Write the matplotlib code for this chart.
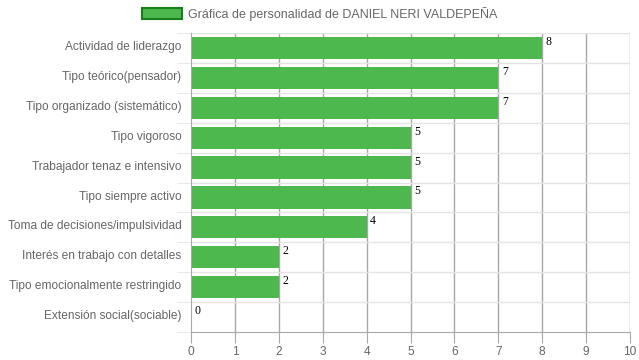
import numpy as np
import matplotlib
matplotlib.use('Agg')
import matplotlib.pyplot as plt
from matplotlib.patches import Patch

categories = ['Actividad de liderazgo', 'Tipo teórico(pensador)', 'Tipo organizado (sistemático)',
              'Tipo vigoroso', 'Trabajador tenaz e intensivo', 'Tipo siempre activo',
              'Toma de decisiones/impulsividad', 'Interés en trabajo con detalles',
              'Tipo emocionalmente restringido', 'Extensión social(sociable)']
values = [8, 7, 7, 5, 5, 5, 4, 2, 2, 0]
series_label = 'Gráfica de personalidad de DANIEL NERI VALDEPEÑA'

plt.rcParams['font.family'] = ['Liberation Sans', 'DejaVu Sans']

fig = plt.figure(figsize=(6.39, 3.6), dpi=100)
ax = fig.add_axes([191/639, 1 - 332/360, 439/639, 299/360])

n = len(categories)
ypos = np.arange(n)
ax.barh(ypos, values, height=0.74, color='#4db84d', edgecolor='none', zorder=2)
for y, v in zip(ypos, values):
    ax.text(v + 0.08, y - 0.4, str(v), family='Liberation Serif', fontsize=8.5,
            color='black', va='top', ha='left', zorder=3)

ax.set_xlim(0, 10)
ax.set_ylim(n - 0.5, -0.5)
ax.set_xticks(range(11))
ax.set_yticks(ypos - 0.08)
ax.set_yticklabels(categories)
ax.set_yticks(np.arange(-0.5, n, 1), minor=True)
ax.grid(False)
for x in range(1, 11):
    ax.axvline(x, color='#a8a8a8', lw=1, zorder=1)
for yb in np.arange(-0.5, n - 0.5, 1):
    ax.axhline(yb, color='#e4e4e4', lw=1, zorder=1)
for s in ['top', 'right']:
    ax.spines[s].set_visible(False)
ax.spines['left'].set_color('#a8a8a8')
ax.spines['bottom'].set_color('#a8a8a8')
ax.tick_params(axis='x', colors='#666666', labelsize=8.6, length=8, color='#a8a8a8', pad=2)
ax.tick_params(axis='y', which='major', colors='#666666', labelsize=8.6, length=0, pad=7)
ax.tick_params(axis='y', which='minor', length=10, color='#e4e4e4')

leg = fig.legend(handles=[Patch(facecolor='#4db84d', edgecolor='#1a7f1a', lw=1.5, label=series_label)],
                 loc='center', bbox_to_anchor=(0.5, 1 - 14/360), frameon=False,
                 fontsize=9, handlelength=3.2, handleheight=0.9, handletextpad=0.5)
for t in leg.get_texts():
    t.set_color('#666666')

fig.savefig('out.png', dpi=100)
